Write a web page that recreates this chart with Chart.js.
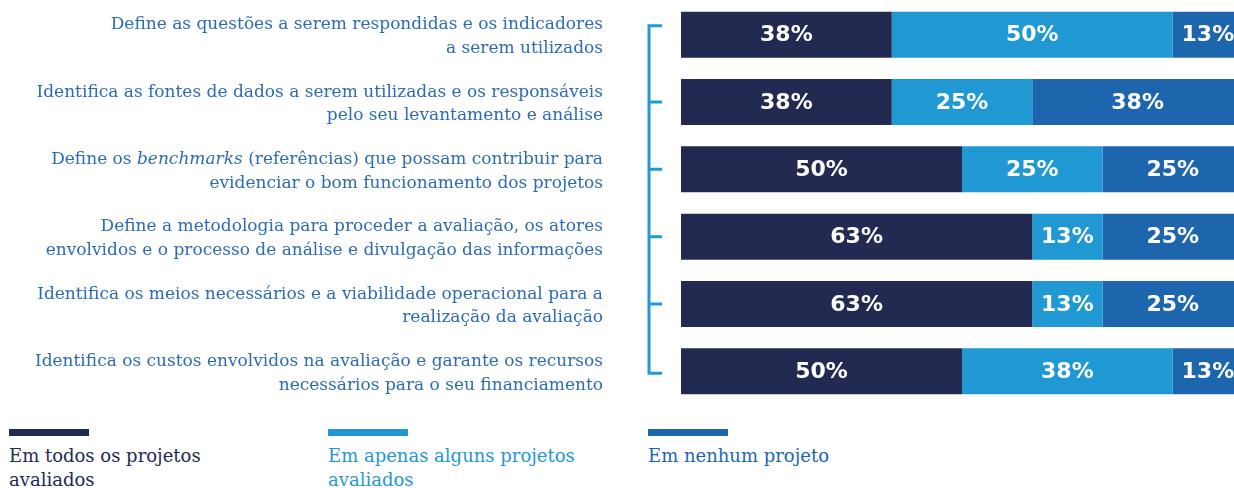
<!DOCTYPE html>
<html lang="pt">
<head>
<meta charset="utf-8">
<title>Avaliação dos projetos</title>
<script src="https://cdn.jsdelivr.net/npm/chart.js@4.4.0/dist/chart.umd.min.js"></script>
<style>
  html, body { margin: 0; padding: 0; background: #fff; overflow: hidden; width: 1234px; height: 488px; }
  #wrap   { position: absolute; left: 0; top: 0; width: 1243px; height: 410px; }
  #legend { position: absolute; left: 0; top: 429px; width: 1234px; height: 59px;
            font-family: "DejaVu Serif", serif; font-size: 18px; line-height: 24px; }
  .lg-item { position: absolute; top: 0; width: 262px; }
  .lg-line { width: 80px; height: 7px; margin-bottom: 8px; }
</style>
</head>
<body>
<div id="wrap"><canvas id="chart"></canvas></div>
<div id="legend"></div>

<script>
/* ── dados ── */
const categories = [
  ['Define as questões a serem respondidas e os indicadores', 'a serem utilizados'],
  ['Identifica as fontes de dados a serem utilizadas e os responsáveis', 'pelo seu levantamento e análise'],
  ['Define os *benchmarks* (referências) que possam contribuir para', 'evidenciar o bom funcionamento dos projetos'],
  ['Define a metodologia para proceder a avaliação, os atores', 'envolvidos e o processo de análise e divulgação das informações'],
  ['Identifica os meios necessários e a viabilidade operacional para a', 'realização da avaliação'],
  ['Identifica os custos envolvidos na avaliação e garante os recursos', 'necessários para o seu financiamento'],
];
const seriesNames = ['Em todos os projetos avaliados', 'Em apenas alguns projetos avaliados', 'Em nenhum projeto'];
const emTodos   = [37.5, 37.5, 50, 62.5, 62.5, 50];
const emAlguns  = [50, 25, 25, 12.5, 12.5, 37.5];
const emNenhum  = [12.5, 37.5, 25, 25, 25, 12.5];

/* ── cores ── */
const C = {
  navy  : '#232a52',
  light : '#1f98d4',
  mid   : '#1d66ae',
  label : '#2c6cb4',
  brace : '#1f9ad6',
};

/* rótulos do eixo (com trecho em itálico entre *...*) */
const axisLabels = {
  id: 'axisLabels',
  afterDraw(chart) {
    const ctx = chart.ctx, y = chart.scales.y;
    const right = chart.chartArea.left - 78;
    const lh = 23.5;
    const fontFor = it => (it ? 'italic ' : '') + '17px "DejaVu Serif", serif';
    ctx.save();
    ctx.fillStyle = C.label;
    ctx.textBaseline = 'middle';
    ctx.textAlign = 'left';
    chart.data.labels.forEach((lines, i) => {
      const cy = y.getPixelForValue(i) + 2;
      lines.forEach((line, j) => {
        const ly = cy + (j - (lines.length - 1) / 2) * lh;
        const parts = line.split('*');
        let w = 0;
        parts.forEach((p, k) => { ctx.font = fontFor(k % 2); w += ctx.measureText(p).width; });
        let x = right - w;
        parts.forEach((p, k) => {
          ctx.font = fontFor(k % 2);
          ctx.fillText(p, x, ly);
          x += ctx.measureText(p).width;
        });
      });
    });
    ctx.restore();
  },
};

/* chave "[" à esquerda das barras */
const bracket = {
  id: 'bracket',
  afterDraw(chart) {
    const ctx = chart.ctx, y = chart.scales.y;
    const x0 = chart.chartArea.left - 32, x1 = chart.chartArea.left - 19;
    const n = chart.data.labels.length;
    const top = y.getPixelForValue(0) - 9, bot = y.getPixelForValue(n - 1) + 2;
    ctx.save();
    ctx.strokeStyle = C.brace;
    ctx.lineWidth = 3;
    ctx.beginPath();
    ctx.moveTo(x1, top); ctx.lineTo(x0, top); ctx.lineTo(x0, bot); ctx.lineTo(x1, bot);
    for (let i = 1; i < n - 1; i++) {
      const py = y.getPixelForValue(i);
      ctx.moveTo(x0, py); ctx.lineTo(x1, py);
    }
    ctx.stroke();
    ctx.restore();
  },
};

/* valores dentro das barras */
const barValues = {
  id: 'barValues',
  afterDatasetsDraw(chart) {
    const ctx = chart.ctx;
    ctx.save();
    ctx.fillStyle = '#ffffff';
    ctx.font = 'bold 22px "DejaVu Sans", sans-serif';
    ctx.textAlign = 'center';
    ctx.textBaseline = 'middle';
    chart.data.datasets.forEach((ds, di) => {
      chart.getDatasetMeta(di).data.forEach((bar, i) => {
        const { x, base, y } = bar.getProps(['x', 'base', 'y'], true);
        ctx.fillText(Math.round(ds.data[i]) + '%', (x + base) / 2, y + 1);
      });
    });
    ctx.restore();
  },
};

const ds = (label, data, color) => ({
  label, data,
  backgroundColor: color,
  borderWidth: 0,
  barPercentage: 0.683,
  categoryPercentage: 1,
});

const chart = new Chart(document.getElementById('chart'), {
  type: 'bar',
  data: {
    labels: categories,
    datasets: [
      ds(seriesNames[0], emTodos,  C.navy),
      ds(seriesNames[1], emAlguns, C.light),
      ds(seriesNames[2], emNenhum, C.mid),
    ],
  },
  options: {
    indexAxis: 'y',
    responsive: true,
    maintainAspectRatio: false,
    animation: false,
    layout: { padding: { top: 1, bottom: 5, left: 0, right: 0 } },
    plugins: { legend: { display: false }, tooltip: { enabled: false } },
    scales: {
      x: { stacked: true, min: 0, max: 100, display: false },
      y: {
        stacked: true,
        grid  : { display: false },
        border: { display: false },
        ticks : { display: false },
        afterFit(s) { s.width = 681; },
      },
    },
  },
  plugins: [axisLabels, bracket, barValues],
});

/* legenda em HTML, a partir dos datasets */
const lgX = [9, 328, 648];
const lg = document.getElementById('legend');
chart.data.datasets.forEach((d, i) => {
  const item = document.createElement('div');
  item.className = 'lg-item';
  item.style.left = lgX[i] + 'px';
  item.style.color = d.backgroundColor;
  const line = document.createElement('div');
  line.className = 'lg-line';
  line.style.background = d.backgroundColor;
  const txt = document.createElement('div');
  txt.textContent = d.label;
  item.appendChild(line);
  item.appendChild(txt);
  lg.appendChild(item);
});
</script>
</body>
</html>
